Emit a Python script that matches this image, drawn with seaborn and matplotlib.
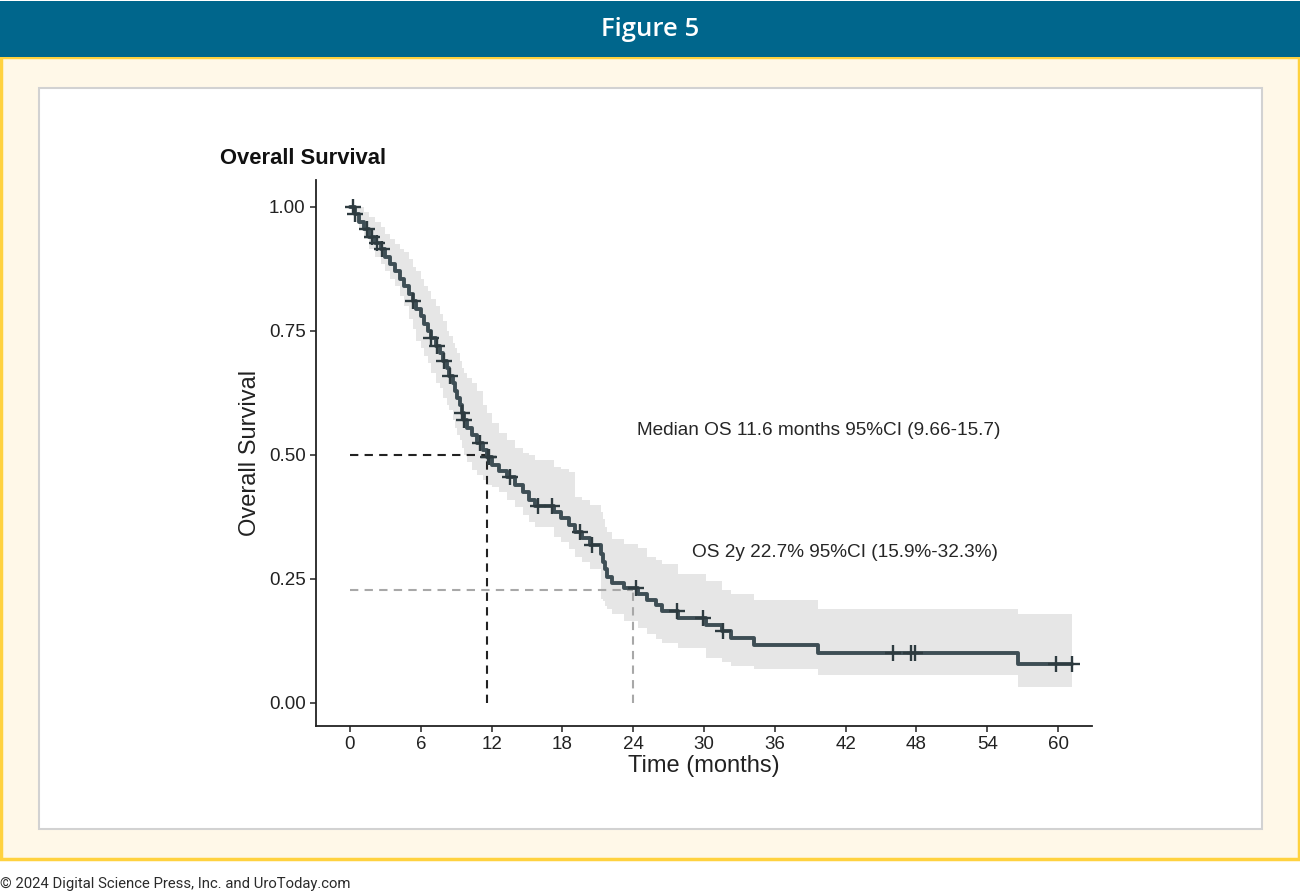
import numpy as np
import pandas as pd
import matplotlib
matplotlib.use("Agg")
import matplotlib.pyplot as plt
from matplotlib.patches import Rectangle
import seaborn as sns

# ---------------- data ----------------
step_time = [0.0, 0.4, 0.8, 1.2, 1.6, 2.1, 2.6, 3.0, 3.4, 3.8, 4.2, 4.6, 5.0, 5.3, 5.6,
             6.0, 6.3, 6.6, 6.9, 7.3, 7.6, 7.9, 8.2, 8.4, 8.7, 8.9, 9.1, 9.3, 9.5, 9.7,
             9.9, 10.3, 10.8, 11.3, 11.6, 12.0, 12.6, 13.3, 14.0, 14.7, 15.2, 15.7, 17.3,
             17.9, 18.6, 19.1, 19.7, 20.3, 21.3, 21.45, 21.6, 21.8, 22.2, 23.2, 24.4, 25.2,
             25.9, 26.4, 27.8, 30.2, 31.5, 32.3, 34.2, 39.7, 56.6]
surv = [1.0, 0.985, 0.97, 0.955, 0.94, 0.928, 0.915, 0.90, 0.885, 0.87, 0.855, 0.84, 0.825,
        0.81, 0.795, 0.78, 0.765, 0.75, 0.735, 0.72, 0.705, 0.69, 0.675, 0.66, 0.645, 0.63,
        0.615, 0.60, 0.585, 0.57, 0.555, 0.54, 0.525, 0.51, 0.495, 0.48, 0.467, 0.455, 0.44,
        0.425, 0.41, 0.397, 0.385, 0.372, 0.358, 0.345, 0.332, 0.318, 0.30, 0.285, 0.27,
        0.255, 0.242, 0.232, 0.22, 0.208, 0.197, 0.186, 0.172, 0.158, 0.145, 0.131, 0.116,
        0.101, 0.078]
ci_lower = [1.0, 0.97, 0.955, 0.935, 0.915, 0.90, 0.885, 0.87, 0.855, 0.84, 0.82, 0.80, 0.775,
            0.755, 0.73, 0.715, 0.70, 0.685, 0.665, 0.645, 0.635, 0.615, 0.60, 0.59, 0.57,
            0.555, 0.54, 0.53, 0.515, 0.50, 0.485, 0.47, 0.46, 0.45, 0.44, 0.435, 0.425, 0.41,
            0.395, 0.38, 0.365, 0.355, 0.335, 0.325, 0.31, 0.295, 0.285, 0.27, 0.21, 0.205,
            0.195, 0.19, 0.18, 0.165, 0.152, 0.14, 0.128, 0.12, 0.11, 0.09, 0.082, 0.075,
            0.068, 0.056, 0.032]
ci_upper = [1.0, 1.0, 1.0, 0.99, 0.98, 0.97, 0.96, 0.945, 0.935, 0.925, 0.915, 0.91, 0.895,
            0.88, 0.87, 0.855, 0.84, 0.83, 0.815, 0.80, 0.785, 0.77, 0.75, 0.74, 0.725, 0.715,
            0.705, 0.69, 0.675, 0.665, 0.655, 0.645, 0.63, 0.60, 0.585, 0.565, 0.545, 0.53,
            0.515, 0.505, 0.50, 0.49, 0.476, 0.472, 0.465, 0.415, 0.41, 0.40, 0.385, 0.37,
            0.355, 0.345, 0.33, 0.32, 0.312, 0.295, 0.288, 0.28, 0.26, 0.245, 0.228, 0.22,
            0.208, 0.19, 0.18]
last_follow_up = 61.2
censor_time = [0.25, 0.45, 1.4, 1.9, 2.3, 2.7, 5.3, 6.9, 7.4, 8.0, 8.5, 9.5, 9.7, 11.0, 11.7,
               11.8, 13.6, 15.9, 17.1, 19.5, 20.5, 24.2, 27.7, 29.9, 31.6, 46.0, 47.5, 47.9,
               59.8, 61.2]
x_ticks = [0, 6, 12, 18, 24, 30, 36, 42, 48, 54, 60]
y_ticks = [0.00, 0.25, 0.50, 0.75, 1.00]
y_tick_labels = ["0.00", "0.25", "0.50", "0.75", "1.00"]
median_os = 11.6
os_2y_time = 24
os_2y = 0.227
median_text = "Median OS 11.6 months 95%CI (9.66-15.7)"
os2y_text = "OS 2y 22.7% 95%CI (15.9%-32.3%)"

# ---------------- styling ----------------
sns.set_style("white")
plt.rcParams["font.family"] = ["Liberation Sans", "DejaVu Sans"]

W, H = 1300, 896
fig = plt.figure(figsize=(W / 100, H / 100), dpi=100)
fig.patch.set_facecolor("white")

def fx(px):
    return px / W

def fy(py):
    return 1 - py / H

# frame: header band, cream panel, yellow border, white box
fig.patches.append(Rectangle((fx(1), fy(859)), fx(1298), fy(57) - fy(859),
                             transform=fig.transFigure, facecolor="#FFF8E8",
                             edgecolor="#FFD23F", linewidth=2.5, zorder=0))
fig.patches.append(Rectangle((fx(0), fy(57)), fx(1300), fy(1) - fy(57),
                             transform=fig.transFigure, facecolor="#00668C",
                             edgecolor="none", zorder=1))
fig.patches.append(Rectangle((fx(39), fy(829)), fx(1262 - 39), fy(88) - fy(829),
                             transform=fig.transFigure, facecolor="white",
                             edgecolor="#D2D2D2", linewidth=1.5, zorder=1))
fig.text(fx(650), fy(29), "Figure 5", color="white", fontsize=18.5, fontweight="semibold",
         family=["Open Sans", "DejaVu Sans"], ha="center", va="center")
fig.text(fx(0), fy(884), "\u00a9 2024 Digital Science Press, Inc. and UroToday.com",
         color="#2b2b2b", fontsize=10.7, family=["Roboto", "DejaVu Sans"],
         ha="left", va="center")

# ---------------- chart ----------------
ax = fig.add_axes([fx(316), fy(726), fx(1092 - 316), fy(180) - fy(726)])
ax.set_zorder(2)
ax.patch.set_alpha(0)

t_ext = step_time + [last_follow_up]
curve = pd.DataFrame({"time": t_ext, "surv": surv + [surv[-1]]})
band_lo = ci_lower + [ci_lower[-1]]
band_hi = ci_upper + [ci_upper[-1]]

ax.fill_between(t_ext, band_lo, band_hi, step="post", color="#E6E6E6",
                linewidth=0, zorder=1)

# reference dashed lines
ax.plot([0, median_os], [0.5, 0.5], color="#222222", linestyle=(0, (4, 3)), lw=1.5, zorder=2)
ax.plot([median_os, median_os], [0, 0.5], color="#222222", linestyle=(0, (4, 3)), lw=1.5, zorder=2)
ax.plot([0, os_2y_time], [os_2y, os_2y], color="#A8A8A8", linestyle=(0, (4, 3)), lw=1.5, zorder=2)
ax.plot([os_2y_time, os_2y_time], [0, os_2y], color="#A8A8A8", linestyle=(0, (4, 3)), lw=1.5, zorder=2)

sns.lineplot(data=curve, x="time", y="surv", estimator=None, drawstyle="steps-post",
             color="#3E4E55", linewidth=2.8, ax=ax, zorder=3)

idx = np.searchsorted(np.array(step_time), np.array(censor_time), side="right") - 1
cens = pd.DataFrame({"time": censor_time, "surv": np.array(surv)[idx]})
sns.scatterplot(data=cens, x="time", y="surv", marker="+", s=120, color="#2E3B40",
                linewidth=1.7, ax=ax, zorder=4)

ax.text(24.3, 0.55, median_text, fontsize=13.7, color="#262626", ha="left", va="center")
ax.text(29.0, 0.304, os2y_text, fontsize=13.7, color="#262626", ha="left", va="center")

ax.set_xlim(-2.88, 62.88)
ax.set_ylim(-0.0464, 1.0544)
ax.set_xticks(x_ticks)
ax.set_xticklabels([str(v) for v in x_ticks])
ax.set_yticks(y_ticks)
ax.set_yticklabels(y_tick_labels)
ax.tick_params(axis="both", direction="out", length=4.5, width=1.1, color="#222222",
               labelcolor="#222222", bottom=True, left=True)
ax.tick_params(axis="x", labelsize=13.5, pad=3)
ax.tick_params(axis="y", labelsize=13.5, pad=3)
for side in ["top", "right"]:
    ax.spines[side].set_visible(False)
for side in ["left", "bottom"]:
    ax.spines[side].set_color("#222222")
    ax.spines[side].set_linewidth(1.3)
ax.set_xlabel("Time (months)", fontsize=17, color="#222222", labelpad=1)
ax.set_ylabel("Overall Survival", fontsize=17, color="#222222", labelpad=6)
ax.grid(False)

fig.text(fx(220), fy(158), "Overall Survival", fontsize=15.8, fontweight="bold",
         color="#111111", ha="left", va="center", zorder=5)

fig.savefig("out.png", dpi=100)
